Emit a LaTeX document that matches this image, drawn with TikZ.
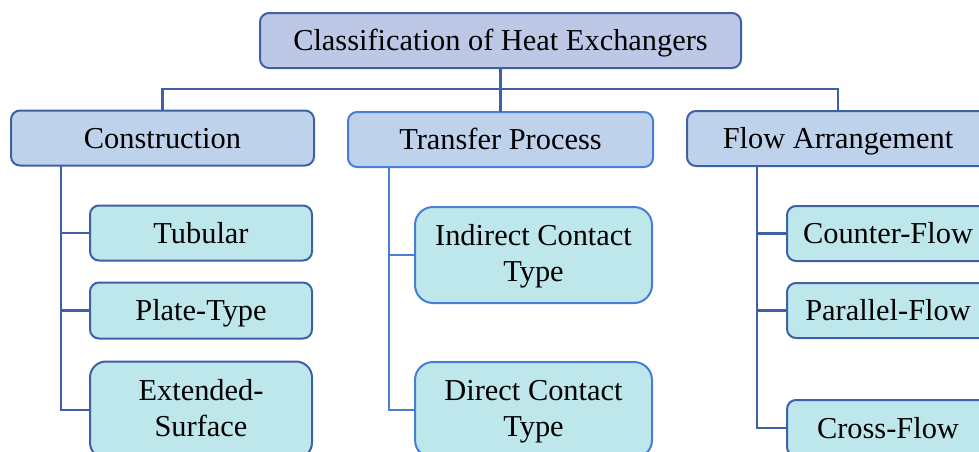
\documentclass[tikz,border=0pt]{standalone}
\usepackage{fontspec}
\setmainfont{Liberation Serif}
\usetikzlibrary{positioning}

\definecolor{rootfill}{HTML}{BCC8E6}
\definecolor{catfill}{HTML}{BED3EB}
\definecolor{leaffill}{HTML}{BEE7EC}
\definecolor{darkline}{HTML}{3E60A6}
\definecolor{brightline}{HTML}{4A7DD4}

\begin{document}
\begin{tikzpicture}[x=1pt,y=-1pt,line width=2pt,
        box/.style={draw=darkline,rounded corners=9pt,align=center,inner sep=0pt,outer sep=0pt,
          font=\fontsize{30.4}{36}\selectfont},
        one line/.style={text height=24pt,text depth=3.6pt},
        two lines/.style={text height=60.5pt,text depth=6.6pt,minimum height=96pt,rounded corners=16pt},
        root node/.style={box,one line,fill=rootfill,minimum width=481pt,minimum height=55pt},
        cat node/.style={box,one line,fill=catfill,minimum height=55pt},
        leaf node/.style={box,fill=leaffill},
        link/.style={draw=darkline,line width=2.4pt}]

        \clip (0,0) rectangle (979,451);

        \node[root node] (root) at (500.5,40.5) {Classification of Heat Exchangers};

        \node[cat node,minimum width=303pt] (cons) at (162.5,138) {Construction};
        \node[cat node,minimum width=305pt,draw=brightline] (tp) at (500.5,139.5) {Transfer Process};
        \node[cat node,minimum width=302pt] (flow) at (838,138.5) {Flow Arrangement};

        % construction types
        \node[leaf node,one line,minimum width=222pt,minimum height=55pt] (tub)
          [below right=40pt and 79pt of cons.south west] {Tubular};
        \node[leaf node,one line,minimum width=222pt,minimum height=56pt] (plate) [below=22pt of tub] {Plate-Type};
        \node[leaf node,two lines,minimum width=222pt,minimum height=97pt] (ext)
          [below=23pt of plate] {Extended-\\Surface};

        % transfer process types
        \node[leaf node,two lines,minimum width=237pt,rounded corners=18pt,draw=brightline] (indirect)
          [below right=40pt and 67pt of tp.south west] {Indirect Contact\\Type};
        \node[leaf node,two lines,minimum width=237pt,rounded corners=18pt,draw=brightline] (direct)
          [below=59pt of indirect] {Direct Contact\\Type};

        % flow arrangements
        \node[leaf node,one line,minimum width=202pt,minimum height=55pt] (counter)
          [below right=40pt and 100pt of flow.south west] {Counter-Flow};
        \node[leaf node,one line,minimum width=202pt,minimum height=55pt] (parallel) [below=22pt of counter] {Parallel-Flow};
        \node[leaf node,one line,minimum width=202pt,minimum height=56pt] (cross) [below=62pt of parallel] {Cross-Flow};

        % tree links
        \coordinate (bar) at (500.5,89);
        \draw[link,line width=2.8pt] (root.south) -- (tp.north);
        \draw[link] (cons.north) |- (bar) -| (flow.north);

        \coordinate (cspine) at ([xshift=50pt]cons.south west);
        \coordinate (tspine) at ([xshift=41pt]tp.south west);
        \coordinate (fspine) at ([xshift=70pt]flow.south west);

        \draw[link] (cspine) |- (ext.west)
          (cspine |- tub.west) -- (tub.west)
          (cspine |- plate.west) -- (plate.west);
        \draw[link,draw=brightline] (tspine) |- (direct.west)
          (tspine |- indirect.west) -- (indirect.west);
        \draw[link] (fspine) |- (cross.west)
          (fspine |- counter.west) -- (counter.west)
          (fspine |- parallel.west) -- (parallel.west);
      \end{tikzpicture}
\end{document}
